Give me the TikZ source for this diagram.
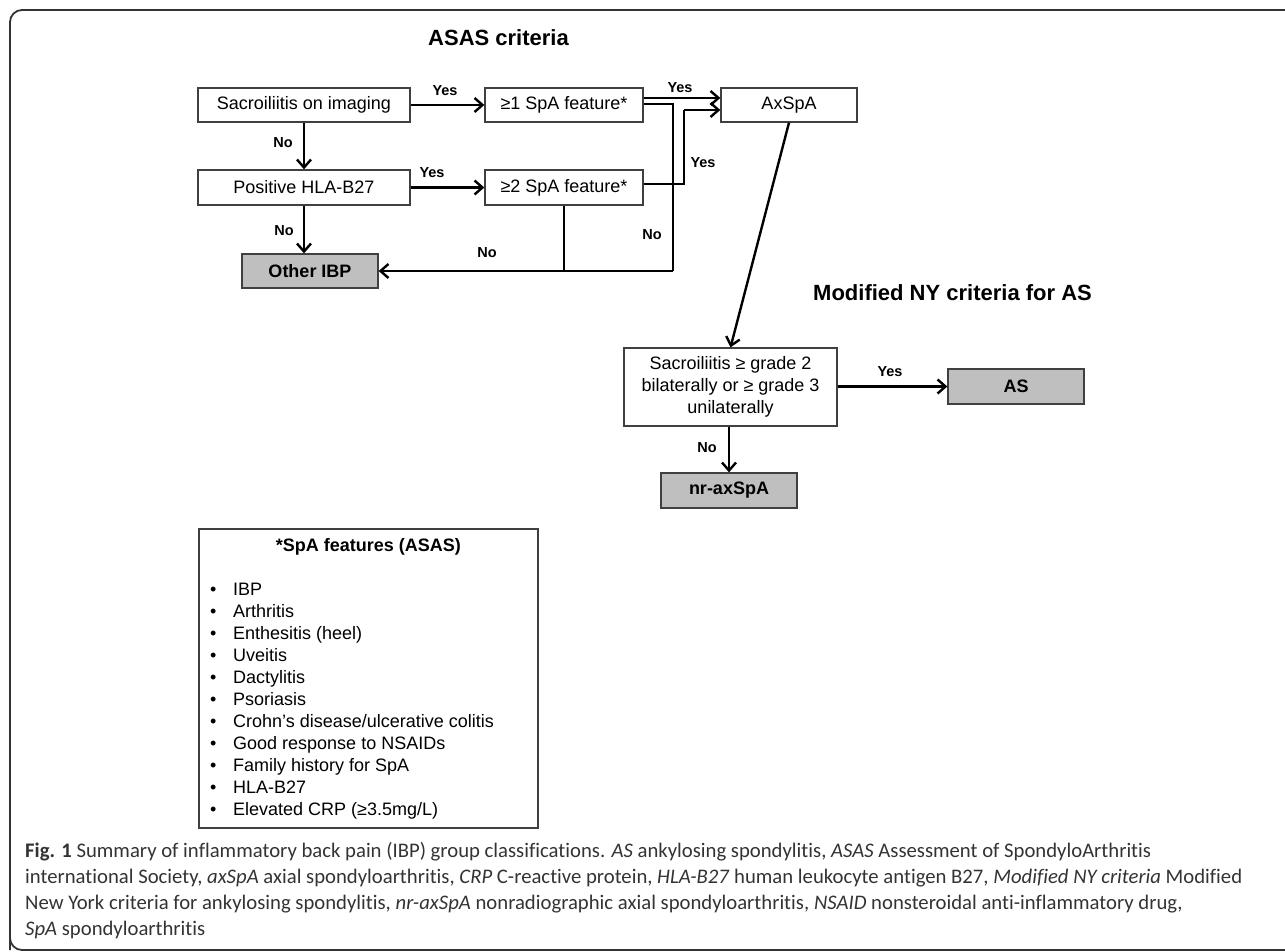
\documentclass[tikz,border=0pt]{standalone}
\usepackage{fontspec}
\setmainfont{Liberation Sans}
\newfontfamily\capfont[Ligatures=NoCommon]{Carlito}
\usetikzlibrary{arrows.meta}
\newsavebox\capmeasure
\newcommand\capLineOne{\textbf{Fig. 1} Summary of inflammatory back pain (IBP) group classifications. \textit{AS} ankylosing spondylitis, \textit{ASAS} Assessment of SpondyloArthritis}
\newcommand\capLineTwo{international Society, \textit{axSpA} axial spondyloarthritis, \textit{CRP} C-reactive protein, \textit{HLA-B27} human leukocyte antigen B27, \textit{Modified NY criteria} Modified}
\newcommand\capLineThree{New York criteria for ankylosing spondylitis, \textit{nr-axSpA} nonradiographic axial spondyloarthritis, \textit{NSAID} nonsteroidal anti-inflammatory drug,}
\newcommand\capLineFour{\textit{SpA} spondyloarthritis}
\begin{document}
\sbox\capmeasure{\capfont\fontsize{10}{12}\selectfont\capLineTwo}%
\pgfmathsetmacro\capsz{10*1217/\the\wd\capmeasure}%
\begin{tikzpicture}[x=1pt,y=-1pt,
  box/.style={draw=black!75, line width=1.3pt, fill=white, inner sep=0pt, align=center,
              font=\fontsize{18}{21.7}\selectfont},
  res/.style={box, fill=black!25, font=\fontsize{18}{21.7}\selectfont\bfseries},
  conn/.style={line width=2.4pt, line join=miter},
  arr/.style={conn, -{Straight Barb[length=8pt,width=14pt]}},
  lab/.style={font=\fontsize{14.5}{16}\selectfont\bfseries, inner sep=0pt},
  ttl/.style={font=\fontsize{22}{24}\selectfont\bfseries, inner sep=0pt, anchor=west},
  item/.style={font=\fontsize{18}{20}\selectfont, inner sep=0pt, anchor=base west}
]
\useasboundingbox (0,0) rectangle (1285,952);
% outer frame
\draw[black!80, line width=1.8pt, rounded corners=12pt] (10,950) -- (10,10) -- (1320,10);
\draw[black!80, line width=1.8pt, rounded corners=12pt] (10,900) -- (10,950) -- (1320,950);

% titles
\node[ttl] (t1) at (428,38) {ASAS criteria};
\node[ttl] (t2) at (813,293) {Modified NY criteria for AS};

% boxes
\node[box, minimum width=212pt, minimum height=34pt] (sac) at (304,105) {Sacroiliitis on imaging};
\node[box, minimum width=158pt, minimum height=34pt] (f1) at (564,105) {≥1 SpA feature*};
\node[box, minimum width=136pt, minimum height=34pt] (ax) at (789,105) {AxSpA};
\node[box, minimum width=212pt, minimum height=35pt] (hla) at (304,187.5) {Positive HLA-B27};
\node[box, minimum width=158pt, minimum height=35pt] (f2) at (564,187.5) {≥2 SpA feature*};
\node[res, minimum width=136pt, minimum height=34pt] (oth) at (310,271) {Other IBP};
\node[box, minimum width=213pt, minimum height=78pt] (ny) at (730.5,387) {Sacroiliitis ≥ grade 2\\bilaterally or ≥ grade 3\\unilaterally};
\node[res, minimum width=136pt, minimum height=35pt] (as) at (1016,386.5) {AS};
\node[res, minimum width=136pt, minimum height=35pt] (nr) at (729,490.5) {nr-axSpA};

% junction coordinates
\coordinate (j) at (673,271);
\coordinate (k1) at (673,104);
\coordinate (m1) at (684,184);
\coordinate (m2) at (684,110);

% connectors
\draw[arr] (sac) -- (f1);
\draw[arr] (sac) -- (hla);
\draw[arr] (hla) -- (f2);
\draw[arr] (hla.south) -- (hla.south |- oth.north);
\draw[arr] ([yshift=7pt]f1.east) -- ([yshift=7pt]ax.west);
\draw[conn] ([yshift=1pt]f1.east) -- (k1) -- (j);
\draw[conn] (f2.south) -- (f2.south |- j);
\draw[arr] (j) -- (oth.east |- j);
\draw[conn] (f2.east |- m1) -- (m1) -- (m2);
\draw[arr] (m2) -- (ax.west |- m2);
\draw[arr] (ax.south) -- (ny.north);
\draw[arr] (ny.east |- as.west) -- (as.west);
\draw[arr] (ny.south -| nr.north) -- (nr.north);

% labels
\node[lab] (y1) at (445,91) {Yes};
\node[lab] (n1) at (283,143) {No};
\node[lab] (y2) at (432,173) {Yes};
\node[lab] (n2) at (284,231) {No};
\node[lab] (n3) at (487,253) {No};
\node[lab] (y3) at (680,88) {Yes};
\node[lab] (y4) at (703,163) {Yes};
\node[lab] (n4) at (652,235) {No};
\node[lab] (y5) at (890,372) {Yes};
\node[lab] (n5) at (707,448) {No};

% legend
\node[draw=black!75, line width=1.3pt, minimum width=339pt, minimum height=299pt, inner sep=0pt] (leg) at (368.5,678.5) {};
\node[inner sep=0pt, font=\fontsize{18}{20}\selectfont\bfseries] (legt) at (368.5,547) {*SpA features (ASAS)};
\foreach \t [count=\i from 0] in {IBP,Arthritis,Enthesitis (heel),Uveitis,Dactylitis,Psoriasis,Crohn’s disease/ulcerative colitis,Good response to NSAIDs,Family history for SpA,HLA-B27,Elevated CRP (≥3.5mg/L)}{
  \node[item] (b\i) at (210,595.5+22*\i) {•};
  \node[item] (it\i) at (233,595.5+22*\i) {\t};
}

% caption
\node[anchor=north west, inner sep=0pt, align=left, text=black!80,
      font=\capfont\fontsize{\capsz}{26}\selectfont] (cap) at (25,842)
{\capLineOne\\ \capLineTwo\\ \capLineThree\\ \capLineFour};
\end{tikzpicture}
\end{document}
